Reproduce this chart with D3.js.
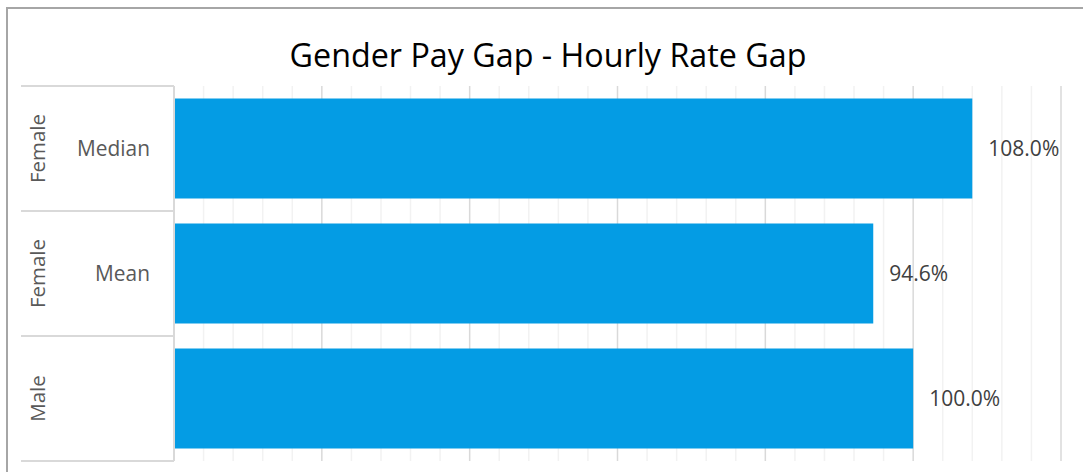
<!DOCTYPE html>
<html>
<head>
<meta charset="utf-8">
<script src="https://cdn.jsdelivr.net/npm/d3@7"></script>
<style>
  body { margin: 0; background: #fff; }
  text { font-family: "Open Sans", "Noto Sans", sans-serif; }
</style>
</head>
<body>
<div class="chart"></div>
<script>
// categories (inner level / outer level) and values
var innerLabels = ['Median', 'Mean', ''];
var outerLabels = ['Female', 'Female', 'Male'];
var values = [108.0, 94.6, 100.0];
var chartTitle = 'Gender Pay Gap - Hourly Rate Gap';

var W = 1083, H = 472;
var margin = { top: 86, right: 22, bottom: 11, left: 174 };
var width = W - margin.left - margin.right;
var height = H - margin.top - margin.bottom;

var svg = d3.select('.chart')
    .append('svg')
    .attr('width', W)
    .attr('height', H);

// scale a text selection's font so its widest item matches a target width
function fitFont(sel, base, target) {
    var widest = 0;
    sel.style('font-size', base + 'px')
        .each(function() { widest = Math.max(widest, this.getComputedTextLength()); });
    sel.style('font-size', (base * target / widest) + 'px');
}

// chart border
svg.append('rect')
    .attr('x', 7).attr('y', 8)
    .attr('width', W).attr('height', H)
    .attr('fill', 'none')
    .attr('stroke', '#a6a6a6')
    .attr('stroke-width', 2);

// title
var title = svg.append('text')
    .attr('x', 548)
    .attr('y', 67)
    .attr('text-anchor', 'middle')
    .attr('fill', '#000')
    .text(chartTitle);
fitFont(title, 28, 517);

var g = svg.append('g')
    .attr('transform', `translate(${margin.left},${margin.top})`);

var xScale = d3.scaleLinear()
    .domain([0, 120])
    .range([0, width]);

var keys = values.map((v, i) => i);
var yScale = d3.scaleBand()
    .domain(keys)
    .range([0, height])
    .paddingInner(0.2)
    .paddingOuter(0.1);

// minor gridlines
g.selectAll('line.minor')
    .data(d3.range(4, 121, 4).filter(d => d % 20 !== 0))
    .enter()
    .append('line')
    .attr('class', 'minor')
    .attr('x1', d => xScale(d)).attr('x2', d => xScale(d))
    .attr('y1', 0).attr('y2', height)
    .attr('stroke', '#f2f2f2')
    .attr('stroke-width', 1.5);

// major gridlines
g.selectAll('line.major')
    .data(d3.range(20, 121, 20))
    .enter()
    .append('line')
    .attr('class', 'major')
    .attr('x1', d => xScale(d)).attr('x2', d => xScale(d))
    .attr('y1', 0).attr('y2', height)
    .attr('stroke', '#d9d9d9')
    .attr('stroke-width', 1.5);

// bars
g.selectAll('rect.bar')
    .data(values)
    .enter()
    .append('rect')
    .attr('class', 'bar')
    .attr('x', 0)
    .attr('y', (d, i) => yScale(i))
    .attr('width', d => xScale(d))
    .attr('height', yScale.bandwidth())
    .attr('fill', '#049ce4');

// data labels
var valLabels = g.selectAll('text.val')
    .data(values)
    .enter()
    .append('text')
    .attr('class', 'val')
    .attr('x', d => xScale(d) + 16)
    .attr('y', (d, i) => yScale(i) + yScale.bandwidth() / 2)
    .attr('dy', '0.35em')
    .attr('fill', '#404040')
    .text(d => d.toFixed(1) + '%');
fitFont(valLabels, 17, 71);

// multi-level category axis
var step = yScale.step();
var axisLeftX = 21 - margin.left;
g.append('line')
    .attr('x1', 0).attr('x2', 0)
    .attr('y1', 0).attr('y2', height)
    .attr('stroke', '#d9d9d9')
    .attr('stroke-width', 2);

g.selectAll('line.sep')
    .data(d3.range(0, keys.length + 1))
    .enter()
    .append('line')
    .attr('class', 'sep')
    .attr('x1', axisLeftX).attr('x2', 0)
    .attr('y1', d => d * step).attr('y2', d => d * step)
    .attr('stroke', '#d9d9d9')
    .attr('stroke-width', 2);

var inner = g.selectAll('text.inner')
    .data(innerLabels)
    .enter()
    .append('text')
    .attr('class', 'inner')
    .attr('x', -24)
    .attr('y', (d, i) => yScale(i) + yScale.bandwidth() / 2)
    .attr('dy', '0.35em')
    .attr('text-anchor', 'end')
    .attr('fill', '#595959')
    .text(d => d);
fitFont(inner, 17, 73);

var outer = g.selectAll('text.outer')
    .data(outerLabels)
    .enter()
    .append('text')
    .attr('class', 'outer')
    .attr('transform', (d, i) => `translate(${38 - margin.left},${yScale(i) + yScale.bandwidth() / 2}) rotate(-90)`)
    .attr('dy', '0.35em')
    .attr('text-anchor', 'middle')
    .attr('fill', '#595959')
    .text(d => d);
fitFont(outer, 17, 69);
</script>
</body>
</html>
